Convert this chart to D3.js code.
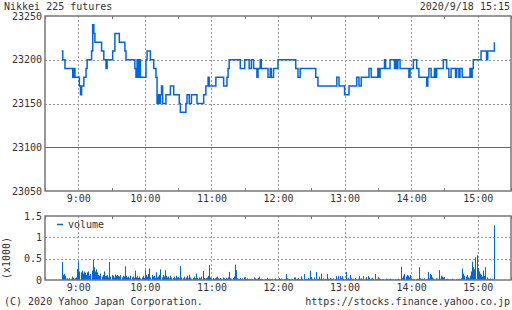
<!DOCTYPE html>
<html><head><meta charset="utf-8">
<script src="https://cdn.jsdelivr.net/npm/d3@7"></script>
<style>
html,body{margin:0;padding:0;background:#fff;}
text{font-family:"DejaVu Sans Mono",monospace;font-size:10px;fill:#333;}
</style></head><body>
<script>
// ---- data ----
const title = "Nikkei 225 futures";
const stamp = "2020/9/18 15:15";
const priceTicks = [23050, 23100, 23150, 23200, 23250];
const volTicks = [0, 0.5, 1, 1.5];
const volTickLabels = ["0", "0.5", "1", "1.5"];
const hourTicks = ["9:00","10:00","11:00","12:00","13:00","14:00","15:00"];
const halfTicks = ["8:30","9:30","10:30","11:30","12:30","13:30","14:30","15:30"];
const prevClose = 23100;

const priceTimes = ["8:45","8:46","8:48","8:55","8:56","8:57","9:01","9:02","9:03","9:05","9:07","9:08",
 "9:12","9:13","9:14","9:15","9:21","9:23","9:25","9:26","9:31","9:33","9:37","9:42","9:43",
 "9:51","9:52","9:53","9:54","9:55","9:56","10:01","10:02","10:05","10:08","10:10","10:11","10:12","10:13","10:14",
 "10:15","10:16","10:19","10:23","10:26","10:31","10:32","10:37","10:38","10:40","10:42","10:47","10:53","10:55",
 "10:57","10:58","11:04","11:11","11:14","11:15","11:16","11:26","11:30","11:34","11:36","11:38","11:41","11:42",
 "11:44","11:45","11:51","11:53","11:54","11:56","12:00","12:16","12:18","12:20","12:34","12:36","12:53","12:55",
 "13:00","13:04","13:11","13:13","13:15","13:22","13:24","13:30","13:31","13:32","13:36","13:37","13:41","13:45",
 "13:46","13:47","13:48","13:50","13:58","13:59","14:02","14:05","14:07","14:14","14:15","14:16","14:18","14:21",
 "14:22","14:23","14:29","14:32","14:34","14:36","14:40","14:41","14:43","14:44","14:46","14:53","14:54","14:55",
 "14:56","15:03","15:08","15:09","15:15"];
const prices = [23210,23200,23190,23180,23190,23180,23170,23160,23170,23180,23190,23200,
 23210,23240,23230,23220,23210,23200,23190,23200,23210,23230,23220,23210,23200,
 23190,23180,23200,23180,23200,23180,23200,23210,23200,23190,23180,23150,23160,23150,23160,
 23170,23150,23160,23170,23160,23150,23140,23150,23160,23150,23160,23150,23160,23170,
 23180,23170,23180,23170,23180,23190,23200,23190,23200,23190,23200,23190,23180,23190,
 23200,23190,23180,23190,23180,23190,23200,23190,23180,23190,23180,23170,23180,23170,
 23160,23170,23180,23170,23180,23190,23180,23190,23180,23190,23200,23190,23200,23190,
 23200,23190,23200,23190,23180,23190,23200,23190,23180,23170,23180,23190,23180,23190,
 23180,23190,23200,23190,23180,23190,23180,23190,23180,23190,23180,23190,23180,23190,
 23200,23210,23200,23210,23220];

// volume (x1000), one value per minute starting 8:45
const volStart = "8:45";
const volumes = [
 0.42,0.12,0.14,0.10,0.03,0.04,0.02,0.05,0.03,0.08,
 0.05,0.03,0.04,0.06,0.26,0.43,0.20,0.18,0.22,0.15,
 0.20,0.17,0.12,0.18,0.20,0.10,0.14,0.22,0.47,0.30,
 0.20,0.25,0.18,0.12,0.10,0.15,0.08,0.12,0.20,0.09,
 0.10,0.12,0.06,0.42,0.08,0.12,0.10,0.06,0.13,0.10,
 0.12,0.10,0.08,0.12,0.06,0.10,0.08,0.32,0.10,0.06,
 0.08,0.04,0.10,0.06,0.08,0.04,0.22,0.06,0.10,0.05,
 0.08,0.04,0.06,0.10,0.05,0.23,0.12,0.08,0.14,0.27,
 0.06,0.12,0.08,0.10,0.05,0.18,0.06,0.08,0.12,0.25,
 0.06,0.12,0.08,0.23,0.10,0.06,0.08,0.04,0.10,0.06,
 0.05,0.08,0.04,0.10,0.06,0.05,0.04,0.33,0.06,0.04,
 0.08,0.03,0.06,0.10,0.04,0.12,0.06,0.03,0.05,0.08,
 0.04,0.15,0.05,0.03,0.06,0.04,0.08,0.21,0.05,0.03,
 0.04,0.06,0.10,0.35,0.06,0.04,0.05,0.03,0.04,0.06,
 0.08,0.04,0.03,0.05,0.03,0.06,0.04,0.02,0.05,0.03,
 0.06,0.19,0.04,0.03,0.05,0.08,0.36,0.23,0.04,0.03,
 0.02,0.05,0.02,0.04,0.06,0.03,0.02,0.04,0.02,0.03,
 0.02,0.03,0.02,0.06,0.04,0.02,0.03,0.05,0.08,0.02,
 0.03,0.02,0.01,0.03,0.02,0.05,0.02,0.03,0.01,0.02,
 0.03,0.02,0.04,0.02,0.01,0.03,0.05,0.02,0.03,0.02,
 0.02,0.03,0.14,0.04,0.03,0.02,0.01,0.03,0.02,0.06,
 0.06,0.02,0.03,0.05,0.01,0.02,0.09,0.03,0.14,0.02,
 0.03,0.02,0.05,0.03,0.22,0.06,0.03,0.06,0.02,0.19,
 0.03,0.02,0.08,0.03,0.15,0.02,0.04,0.03,0.02,0.14,
 0.03,0.02,0.05,0.03,0.02,0.04,0.02,0.09,0.03,0.09,
 0.02,0.09,0.04,0.09,0.03,0.02,0.19,0.03,0.05,0.02,
 0.12,0.04,0.02,0.03,0.05,0.02,0.01,0.03,0.09,0.03,
 0.04,0.02,0.09,0.03,0.07,0.02,0.09,0.06,0.02,0.03,
 0.05,0.03,0.14,0.02,0.03,0.02,0.04,0.02,0.01,0.02,
 0.02,0.01,0.03,0.02,0.01,0.02,0.03,0.02,0.01,0.02,
 0.02,0.01,0.02,0.03,0.02,0.01,0.31,0.05,0.10,0.14,
 0.08,0.12,0.10,0.06,0.12,0.04,0.02,0.03,0.01,0.02,
 0.03,0.02,0.30,0.04,0.02,0.03,0.02,0.04,0.02,0.03,
 0.19,0.04,0.14,0.12,0.06,0.03,0.02,0.04,0.03,0.02,
 0.23,0.03,0.10,0.08,0.06,0.04,0.02,0.03,0.02,0.01,
 0.02,0.01,0.03,0.02,0.01,0.02,0.01,0.02,0.03,0.02,
 0.04,0.27,0.15,0.10,0.08,0.12,0.06,0.04,0.10,0.20,
 0.43,0.30,0.25,0.53,0.58,0.28,0.20,0.15,0.12,0.08,
 0.22,0.10,0.30,0.06,0.03,0.02,0.04,0.02,0.03,0.01,
 1.28];

// ---- layout ----
const W = 512, H = 310;
const L = 45, R = 511;
const pTop = 16, pBot = 191;
const vTop = 216, vBot = 280;
const blue = "#0066dd", frame = "#777", grid = "#999";

const parse = d3.timeParse("%H:%M");
const x = d3.scaleTime().domain([parse("8:30"), parse("15:30")]).range([L, R]);
const yP = d3.scaleLinear().domain([23050, 23250]).range([pBot, pTop]);
const yV = d3.scaleLinear().domain([0, 1.5]).range([vBot, vTop]);

const svg = d3.select("body").append("svg").attr("width", W).attr("height", H);
svg.append("rect").attr("width", W).attr("height", H).attr("fill", "#fff");

function panel(top, bot, yScale, hLines, solidVal) {
  const g = svg.append("g");
  // vertical hour gridlines
  g.selectAll(null).data(hourTicks).join("line")
    .attr("x1", d => Math.round(x(parse(d))) + 0.5).attr("x2", d => Math.round(x(parse(d))) + 0.5)
    .attr("y1", top).attr("y2", bot)
    .attr("stroke", grid).attr("stroke-dasharray", "2,2");
  g.selectAll(null).data(hLines).join("line")
    .attr("x1", L).attr("x2", R)
    .attr("y1", d => Math.round(yScale(d)) + 0.5).attr("y2", d => Math.round(yScale(d)) + 0.5)
    .attr("stroke", grid).attr("stroke-dasharray", "2,2");
  if (solidVal !== null) {
    g.append("line").attr("x1", L).attr("x2", R)
      .attr("y1", Math.round(yScale(solidVal)) + 0.5).attr("y2", Math.round(yScale(solidVal)) + 0.5)
      .attr("stroke", "#666");
  }
  // half-hour ticks
  g.selectAll(null).data(halfTicks).join("line")
    .attr("x1", d => Math.round(x(parse(d))) + 0.5).attr("x2", d => Math.round(x(parse(d))) + 0.5)
    .attr("y1", top).attr("y2", top + 3).attr("stroke", frame);
  g.selectAll(null).data(halfTicks).join("line")
    .attr("x1", d => Math.round(x(parse(d))) + 0.5).attr("x2", d => Math.round(x(parse(d))) + 0.5)
    .attr("y1", bot - 3).attr("y2", bot).attr("stroke", frame);
  return g;
}

// top panel
panel(pTop, pBot, yP, [23150, 23200], prevClose);
const line = d3.line()
  .x((d, i) => x(parse(priceTimes[i])))
  .y(d => yP(d))
  .curve(d3.curveStepAfter);
svg.append("path").datum(prices).attr("d", line)
  .attr("fill", "none").attr("stroke", blue).attr("stroke-width", 1.5);
svg.append("rect").attr("x", L).attr("y", pTop).attr("width", R - L).attr("height", pBot - pTop)
  .attr("fill", "none").attr("stroke", frame).attr("stroke-width", 1.5);

// y axis labels (top)
const ayP = d3.axisLeft(yP).tickValues(priceTicks).tickSize(0).tickPadding(3).tickFormat(d3.format("d"));
svg.append("g").attr("transform", `translate(${L},0)`).call(ayP)
  .call(g => g.select(".domain").remove())
  .selectAll("text").attr("fill", "#333").style("font-family", "'DejaVu Sans Mono',monospace").style("font-size", "10px");

// x axis labels (top)
const ax = d3.axisBottom(x).tickValues(hourTicks.map(parse)).tickSize(0).tickPadding(4).tickFormat(d3.timeFormat("%-H:%M"));
svg.append("g").attr("transform", `translate(0,${pBot})`).call(ax)
  .call(g => g.select(".domain").remove())
  .selectAll("text").attr("fill", "#333").style("font-family", "'DejaVu Sans Mono',monospace").style("font-size", "10px");

// volume panel
panel(vTop, vBot, yV, [0.5, 1], null);
const t0 = parse(volStart);
svg.append("g").selectAll("rect").data(volumes).join("rect")
  .attr("x", (d, i) => Math.round(x(d3.timeMinute.offset(t0, i))))
  .attr("width", 1)
  .attr("y", d => yV(d))
  .attr("height", d => vBot - yV(d))
  .attr("fill", blue);
svg.append("rect").attr("x", L).attr("y", vTop).attr("width", R - L).attr("height", vBot - vTop)
  .attr("fill", "none").attr("stroke", frame).attr("stroke-width", 1.5);

const ayV = d3.axisLeft(yV).tickValues(volTicks).tickSize(0).tickPadding(3).tickFormat((d, i) => volTickLabels[i]);
svg.append("g").attr("transform", `translate(${L},0)`).call(ayV)
  .call(g => g.select(".domain").remove())
  .selectAll("text").attr("fill", "#333").style("font-family", "'DejaVu Sans Mono',monospace").style("font-size", "10px");
svg.append("g").attr("transform", `translate(0,${vBot})`).call(ax)
  .call(g => g.select(".domain").remove())
  .selectAll("text").attr("fill", "#333").style("font-family", "'DejaVu Sans Mono',monospace").style("font-size", "10px");

// legend
svg.append("line").attr("x1", 57).attr("x2", 63).attr("y1", 224.5).attr("y2", 224.5).attr("stroke", blue).attr("stroke-width", 1.5);
svg.append("text").attr("x", 68).attr("y", 228).text("volume");

// (x1000)
svg.append("text").attr("transform", "translate(10,258) rotate(-90)").attr("text-anchor", "middle").text("(x1000)");

// titles
svg.append("text").attr("x", 4).attr("y", 10).text(title);
svg.append("text").attr("x", 510).attr("y", 10).attr("text-anchor", "end").text(stamp);
svg.append("text").attr("x", 4).attr("y", 305).text("(C) 2020 Yahoo Japan Corporation.");
svg.append("text").attr("x", 510).attr("y", 305).attr("text-anchor", "end").text("https://stocks.finance.yahoo.co.jp");
</script>
</body></html>
